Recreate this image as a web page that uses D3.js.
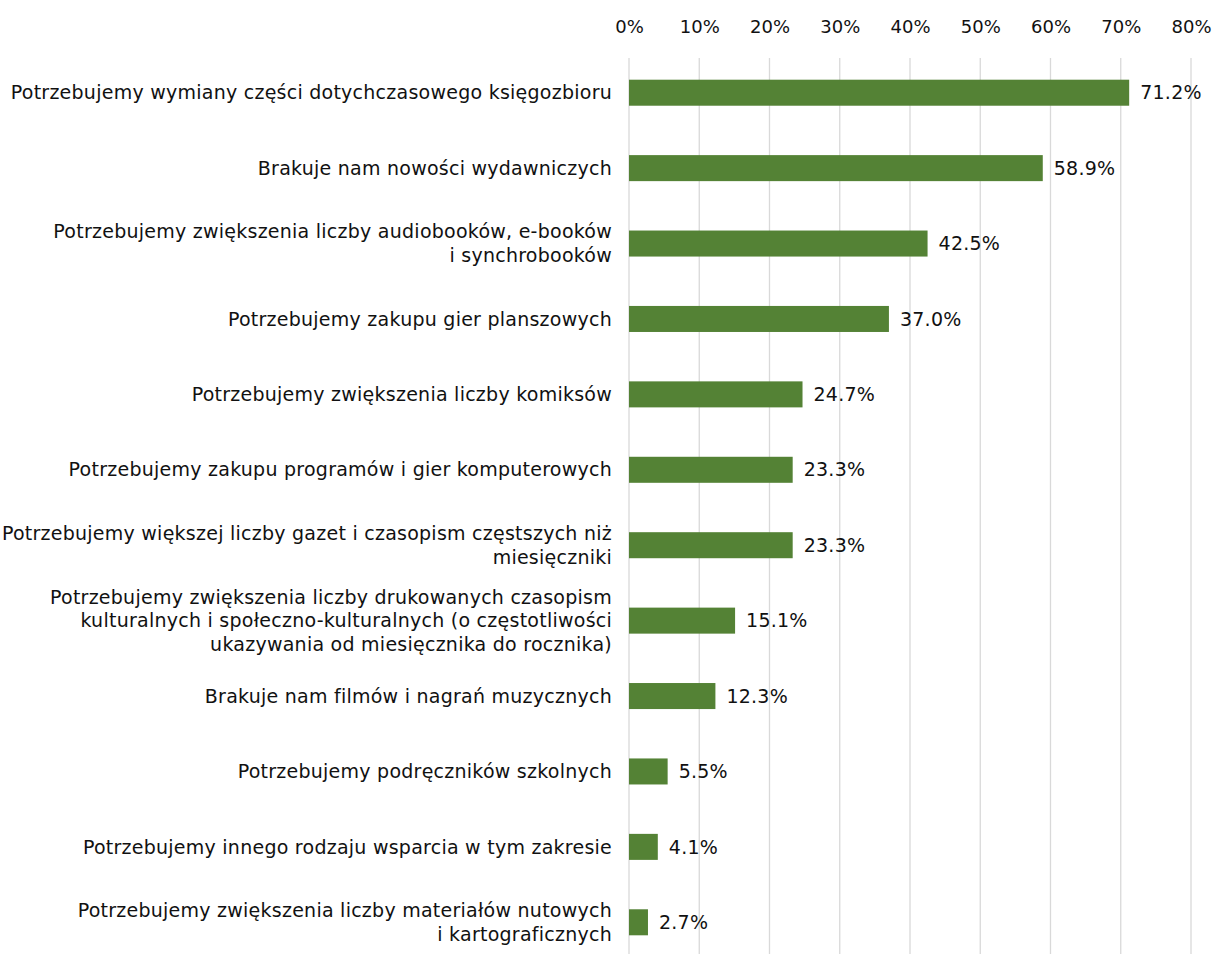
<!DOCTYPE html>
<html>
<head>
<meta charset="utf-8">
<script src="https://cdn.jsdelivr.net/npm/d3@7"></script>
<style>
  body { margin: 0; background: #fff; }
  text { font-family: "DejaVu Sans", sans-serif; fill: #111; }
</style>
</head>
<body>
<div class="chart"></div>
<script>
// labels (lines split as in the original)
const categories = [
  ["Potrzebujemy wymiany części dotychczasowego księgozbioru"],
  ["Brakuje nam nowości wydawniczych"],
  ["Potrzebujemy zwiększenia liczby audiobooków, e-booków", "i synchrobooków"],
  ["Potrzebujemy zakupu gier planszowych"],
  ["Potrzebujemy zwiększenia liczby komiksów"],
  ["Potrzebujemy zakupu programów i gier komputerowych"],
  ["Potrzebujemy większej liczby gazet i czasopism częstszych niż", "miesięczniki"],
  ["Potrzebujemy zwiększenia liczby drukowanych czasopism", "kulturalnych i społeczno-kulturalnych (o częstotliwości", "ukazywania od miesięcznika do rocznika)"],
  ["Brakuje nam filmów i nagrań muzycznych"],
  ["Potrzebujemy podręczników szkolnych"],
  ["Potrzebujemy innego rodzaju wsparcia w tym zakresie"],
  ["Potrzebujemy zwiększenia liczby materiałów nutowych", "i kartograficznych"]
]
const values = [71.2, 58.9, 42.5, 37.0, 24.7, 23.3, 23.3, 15.1, 12.3, 5.5, 4.1, 2.7]
const ticks = [0, 10, 20, 30, 40, 50, 60, 70, 80]

const width = 1222
const height = 954
const margin = {top: 55, right: 31, bottom: 0, left: 629}

const data = values.map((v, i) => ({id: i, lines: categories[i], value: v}))

const svg = d3.select('.chart')
  .append('svg')
  .attr('width', width)
  .attr('height', height)

const xScale = d3.scaleLinear()
  .domain([0, 80])
  .range([margin.left, width - margin.right])

const yScale = d3.scaleBand()
  .domain(data.map(d => d.id))
  .range([margin.top, 960])
  .paddingInner(0.655)
  .paddingOuter(0.3275)

// gridlines
svg.append('g')
  .selectAll('line')
  .data(ticks)
  .enter()
  .append('line')
  .attr('x1', d => xScale(d))
  .attr('x2', d => xScale(d))
  .attr('y1', 58)
  .attr('y2', height)
  .attr('stroke', '#d9d9d9')
  .attr('stroke-width', 1.3)

// top axis
const xAxis = d3.axisTop(xScale)
  .tickValues(ticks)
  .tickFormat(d => d + '%')
  .tickSize(0)
  .tickPadding(0)

const xAxisGroup = svg.append('g')
  .attr('transform', 'translate(0, 33)')
  .call(xAxis)

xAxisGroup.select('.domain').remove()
xAxisGroup.selectAll('text')
  .attr('font-family', '"DejaVu Sans", sans-serif')
  .attr('font-size', '18px')
  .attr('fill', '#111')

// bars
svg.append('g')
  .selectAll('rect')
  .data(data)
  .enter()
  .append('rect')
  .attr('x', xScale(0))
  .attr('y', d => yScale(d.id))
  .attr('width', d => xScale(d.value) - xScale(0))
  .attr('height', yScale.bandwidth())
  .attr('fill', '#548235')

// value labels
svg.append('g')
  .selectAll('text')
  .data(data)
  .enter()
  .append('text')
  .text(d => d.value.toFixed(1) + '%')
  .attr('x', d => xScale(d.value) + 11)
  .attr('y', d => yScale(d.id) + yScale.bandwidth() / 2)
  .attr('dy', '.35em')
  .attr('font-size', '19px')
  .attr('letter-spacing', '0.25px')

// category labels
const lineH = 23.5
const labels = svg.append('g')
  .selectAll('text')
  .data(data)
  .enter()
  .append('text')
  .attr('text-anchor', 'end')
  .attr('font-size', '19px')
  .attr('letter-spacing', '0.25px')
  .attr('y', d => yScale(d.id) + yScale.bandwidth() / 2 - (d.lines.length - 1) * lineH / 2)

labels.selectAll('tspan')
  .data(d => d.lines)
  .enter()
  .append('tspan')
  .attr('x', 612)
  .attr('dy', (d, i) => i === 0 ? '.35em' : lineH)
  .text(d => d)
</script>
</body>
</html>
